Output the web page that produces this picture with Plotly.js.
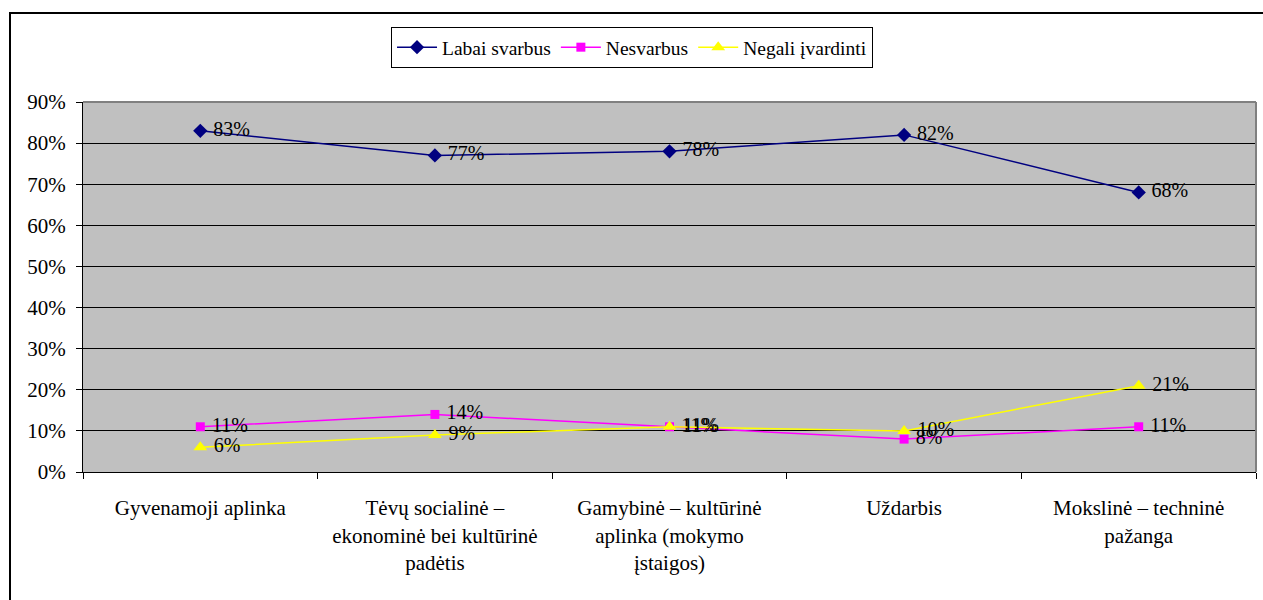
<!DOCTYPE html>
<html>
<head>
<meta charset="utf-8">
<script src="https://cdn.plot.ly/plotly-3.0.1.min.js"></script>
<style>
  html, body { margin:0; padding:0; width:1263px; height:600px; overflow:hidden; background:#fff; }
  #chart { position:absolute; left:0; top:0; width:1263px; height:600px; }
  #frame { position:absolute; left:9px; top:12px; width:1400px; height:800px; border:2px solid #000; pointer-events:none; box-sizing:border-box; }
</style>
</head>
<body>
<div id="chart"></div>
<div id="frame"></div>
<script>
const categories = [
  "Gyvenamoji aplinka",
  "Tėvų socialinė –<br>ekonominė bei kultūrinė<br>padėtis",
  "Gamybinė – kultūrinė<br>aplinka (mokymo<br>įstaigos)",
  "Uždarbis",
  "Mokslinė – techninė<br>pažanga"
];
const seriesNames = ["Labai svarbus", "Nesvarbus", "Negali įvardinti"];
const labaiSvarbus = [83, 77, 78, 82, 68];
const nesvarbus = [11, 14, 11, 8, 11];
const negaliIvardinti = [6, 9, 11, 10, 21];
const yTickVals = [0, 10, 20, 30, 40, 50, 60, 70, 80, 90];

const FONT = "Times New Roman, Liberation Serif, Tinos, serif";
const FS = 21;

function mk(name, vals, color, symbol, size) {
  return {
    type: 'scatter', mode: 'lines+markers+text', name: name,
    x: categories, y: vals,
    text: vals.map(v => ' ' + v + '%'),
    textposition: 'middle right',
    textfont: {family: FONT, size: 20, color: '#000'},
    line: {color: color, width: 1.5},
    marker: {color: color, symbol: symbol, size: size},
    cliponaxis: false,
    hoverinfo: 'skip'
  };
}

const data = [
  mk(seriesNames[0], labaiSvarbus, '#000080', 'diamond', 11),
  mk(seriesNames[1], nesvarbus, '#FF00FF', 'square', 9),
  mk(seriesNames[2], negaliIvardinti, '#FFFF00', 'triangle-up', 12)
];

const layout = {
  width: 1263, height: 600,
  margin: {l: 83, r: 7, t: 102, b: 128},
  paper_bgcolor: '#fff',
  plot_bgcolor: '#C0C0C0',
  font: {family: FONT, size: FS, color: '#000'},
  showlegend: true,
  legend: {
    orientation: 'h', x: 0.2626, xanchor: 'left', y: 1.2027, yanchor: 'top',
    bordercolor: '#000', borderwidth: 1, bgcolor: '#fff',
    font: {family: FONT, size: 19.5, color: '#000'},
    itemwidth: 40,
    itemclick: false
  },
  xaxis: {
    type: 'category', tickson: 'boundaries', ticks: 'outside', ticklen: 6, tickcolor: '#000',
    showline: true, linecolor: '#000', linewidth: 1, showgrid: false,
    tickfont: {family: FONT, size: FS, color: '#000'},
    ticklabelstandoff: 17,
    range: [-0.5, 4.5], fixedrange: true
  },
  yaxis: {
    range: [0, 90], tickvals: yTickVals, ticktext: yTickVals.map(v => v + '%'),
    ticks: 'outside', ticklen: 6, tickcolor: '#000',
    showline: true, linecolor: '#000', linewidth: 1,
    showgrid: true, gridcolor: '#000', gridwidth: 1, zeroline: false,
    tickfont: {family: FONT, size: FS, color: '#000'},
    ticklabelstandoff: 6,
    fixedrange: true
  },
  shapes: [
    {type: 'line', xref: 'paper', yref: 'paper', x0: 0, x1: 1, y0: 1, y1: 1, line: {color: '#808080', width: 2}, layer: 'above'},
    {type: 'line', xref: 'paper', yref: 'paper', x0: 1, x1: 1, y0: 0, y1: 1, line: {color: '#808080', width: 2}, layer: 'above'}
  ]
};

Plotly.newPlot('chart', data, layout, {displayModeBar: false, staticPlot: true});
</script>
</body>
</html>
